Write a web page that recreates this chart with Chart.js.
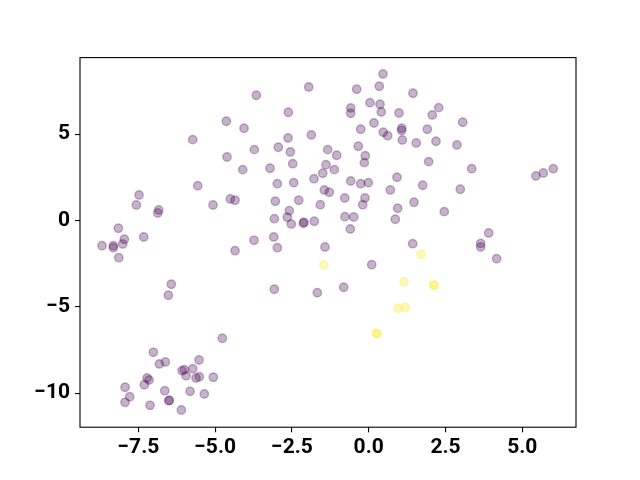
<!DOCTYPE html>
<html>
<head>
<meta charset="utf-8">
<title>Scatter</title>
<script src="https://cdn.jsdelivr.net/npm/chart.js@4.4.1/dist/chart.umd.min.js"></script>
<style>
  html, body { margin: 0; padding: 0; background: #ffffff; }
  canvas { display: block; }
</style>
</head>
<body>
<canvas id="scatterChart" width="640" height="480"></canvas>
<script>
// --- Data ---
const purpleX = [
  -4.635, -4.059, -5.729, -4.613, -4.102, -5.566, -7.477, -7.565, -6.836, -6.868,
  -5.068, -4.505, -4.352, -8.151, -7.324, -7.956, -8.682, -8.314, -8.314, -8.008,
  -8.138, -4.352, -6.426, -6.523, -4.766, -7.012, -6.816, -6.621, -5.524, -5.729,
  -6.077, -6.003, -5.947, -5.622, -5.514, -5.059, -7.217, -7.152, -7.305, -7.933,
  -7.780, -7.933, -6.641, -5.817, -5.352, -6.510, -6.490, -7.119, -6.100,
  0.465, -1.953, 0.345, -0.391, -3.659, 1.442, 0.042, 0.368, -0.586, -0.586,
  0.410, 0.986, -2.617, 0.173, -0.260, 0.475, 0.618, 1.074, 1.074, 1.094,
  -1.868, -2.627, -3.724, -2.943, -2.552, -1.335, -1.042, -0.339, -0.111, -0.143,
  -2.474, -1.390, -1.120, -1.497, -3.213, 0.921, -1.781, -2.975, -2.441, -0.586,
  -0.260, -0.013, -1.445, -1.283, 0.703, -0.781, -0.120, -0.195, -3.040, -2.279,
  -1.576, 0.944, -2.585, -2.650, -3.073, -2.520, -2.106, -2.129, -1.771, -0.772,
  -0.488, 0.866, -0.599, -3.092, -3.734,
  2.279, 2.070, 3.060, 1.908, 1.549, 2.191, 2.874, 1.953, 3.353, 1.758,
  2.982, 1.475, 2.461, 5.446, 5.684, 6.009, 3.906, 3.646, 3.646, 1.432,
  4.167, -2.975, -1.423, 0.098, -3.073, -1.673, -0.814
];
const purpleY = [
  5.744, 5.339, 4.679, 3.677, 2.942, 2.015, 1.477, 0.898, 0.608, 0.434,
  0.898, 1.245, 1.170, -0.452, -0.955, -1.089, -1.459, -1.459, -1.575, -1.361,
  -2.154, -1.749, -3.694, -4.331, -6.821, -7.632, -8.309, -8.193, -8.078, -8.581,
  -8.697, -8.639, -8.987, -9.120, -9.045, -9.079, -9.120, -9.236, -9.508, -9.658,
  -10.203, -10.527, -9.855, -9.890, -10.046, -10.434, -10.410, -10.701, -10.973,
  8.483, 7.730, 7.771, 7.597, 7.250, 7.365, 6.821, 6.729, 6.514, 6.207,
  6.283, 6.225, 6.265, 5.646, 5.281, 5.107, 4.910, 5.339, 5.211, 4.661,
  4.951, 4.777, 4.100, 4.239, 3.966, 4.100, 3.775, 4.297, 3.752, 3.347,
  3.289, 3.231, 2.942, 2.733, 3.023, 2.501, 2.420, 2.131, 2.189, 2.287,
  2.131, 2.189, 1.766, 1.633, 1.766, 1.303, 1.303, 0.915, 1.112, 1.170,
  0.915, 0.706, 0.567, 0.185, 0.104, -0.203, -0.104, -0.162, -0.046, 0.220,
  0.203, 0.069, -0.492, -0.955, -1.147,
  6.532, 6.109, 5.686, 5.281, 4.488, 4.586, 4.372, 3.405, 2.999, 2.038,
  1.807, 1.054, 0.510, 2.577, 2.750, 2.999, -0.724, -1.332, -1.534, -1.343,
  -2.212, -1.575, -1.534, -2.559, -3.984, -4.181, -3.868
];
const yellowX = [-1.465, 1.149, 0.964, 1.191, 0.260, 0.270, 1.702, 2.116, 2.130];
const yellowY = [-2.577, -3.544, -5.084, -5.026, -6.532, -6.550, -1.957, -3.735, -3.760];

const xTicks = [-7.5, -5.0, -2.5, 0.0, 2.5, 5.0];
const yTicks = [-10, -5, 0, 5];
const xRange = [-9.40, 6.75];
const yRange = [-11.97, 9.43];

// matplotlib style minus sign for negatives
function fmtTick(v, digits) {
  const s = Math.abs(v).toFixed(digits);
  return v < 0 ? '\u2212' + s : s;
}

function toPoints(xs, ys) {
  return xs.map((x, i) => ({ x: x, y: ys[i] }));
}

// --- Frame on all four sides of the plot area ---
const frameBox = {
  id: 'frameBox',
  afterDraw(chart) {
    const { ctx, chartArea: a } = chart;
    ctx.save();
    ctx.strokeStyle = '#000000';
    ctx.lineWidth = 1.1;
    ctx.strokeRect(a.left, a.top, a.right - a.left, a.bottom - a.top);
    ctx.restore();
  }
};

const tickFont = { family: "Roboto, 'DejaVu Sans', sans-serif", size: 21, weight: 'bold' };

const ctx = document.getElementById('scatterChart').getContext('2d');
new Chart(ctx, {
  type: 'scatter',
  data: {
    datasets: [
      {
        label: 'class 0',
        data: toPoints(purpleX, purpleY),
        backgroundColor: 'rgba(68, 1, 84, 0.3)',
        borderColor: 'rgba(68, 1, 84, 0.3)',
        borderWidth: 1.4,
        pointRadius: 4.2,
        pointHoverRadius: 4.2
      },
      {
        label: 'class 1',
        data: toPoints(yellowX, yellowY),
        backgroundColor: 'rgba(253, 231, 37, 0.3)',
        borderColor: 'rgba(253, 231, 37, 0.3)',
        borderWidth: 1.4,
        pointRadius: 4.2,
        pointHoverRadius: 4.2
      }
    ]
  },
  options: {
    responsive: false,
    animation: false,
    layout: { padding: { top: 57.6, right: 64, left: 0, bottom: 0 } },
    plugins: {
      legend: { display: false },
      title: { display: false },
      tooltip: { enabled: false }
    },
    scales: {
      x: {
        type: 'linear',
        min: xRange[0],
        max: xRange[1],
        afterBuildTicks: (scale) => { scale.ticks = xTicks.map(v => ({ value: v })); },
        afterFit: (scale) => { scale.height = 52.8; },
        border: { display: false },
        grid: { drawOnChartArea: false, drawTicks: true, tickLength: 5, color: '#000000', lineWidth: 1.1 },
        ticks: {
          color: '#000000',
          font: tickFont,
          padding: 3,
          maxRotation: 0,
          autoSkip: false,
          callback: (v) => fmtTick(v, 1)
        }
      },
      y: {
        type: 'linear',
        min: yRange[0],
        max: yRange[1],
        afterBuildTicks: (scale) => { scale.ticks = yTicks.map(v => ({ value: v })); },
        afterFit: (scale) => { scale.width = 80; },
        border: { display: false },
        grid: { drawOnChartArea: false, drawTicks: true, tickLength: 5, color: '#000000', lineWidth: 1.1 },
        ticks: {
          color: '#000000',
          font: tickFont,
          padding: 5,
          autoSkip: false,
          callback: (v) => fmtTick(v, 0)
        }
      }
    }
  },
  plugins: [frameBox]
});
</script>
</body>
</html>
